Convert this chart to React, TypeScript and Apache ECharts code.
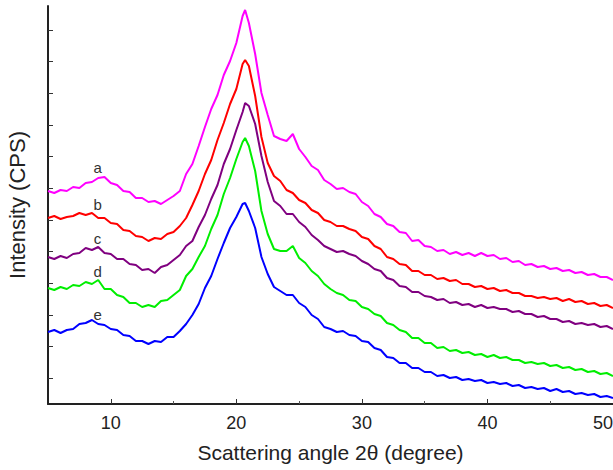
import React, { useEffect, useRef } from "react";
import * as echarts from "echarts";

// Scattering angle 2θ (degree)
const angles = [
  5, 5.5, 6, 6.5, 7, 7.5, 8, 8.5, 9, 9.5, 10, 10.5, 11, 11.5, 12, 12.5, 13, 13.5, 14, 14.5,
  15, 15.5, 16, 16.5, 17, 17.5, 18, 18.5, 19, 19.5, 20, 20.5, 20.7, 21, 21.5, 22, 22.5, 23, 23.5, 24,
  24.5, 25, 25.5, 26, 26.5, 27, 27.5, 28, 28.5, 29, 29.5, 30, 30.5, 31, 31.5, 32, 32.5, 33, 33.5, 34,
  34.5, 35, 35.5, 36, 36.5, 37, 37.5, 38, 38.5, 39, 39.5, 40, 40.5, 41, 41.5, 42, 42.5, 43, 43.5, 44,
  44.5, 45, 45.5, 46, 46.5, 47, 47.5, 48, 48.5, 49, 49.5, 50,
];

// Intensity (CPS), offset curves, arbitrary units
const curveA = [
  213, 211, 214, 213, 217, 216, 221, 222, 226, 227, 221, 219, 213, 212, 206, 206, 202, 203, 200, 204,
  208, 213, 230, 240, 258, 277, 295, 309, 329, 343, 361, 388, 394, 381, 350, 311, 289, 268, 265, 263,
  270, 255, 247, 238, 234, 224, 220, 215, 216, 212, 210, 202, 198, 190, 187, 180, 178, 172, 171, 163,
  164, 158, 157, 153, 154, 150, 152, 149, 151, 148, 151, 148, 149, 145, 146, 142, 143, 139, 140, 137,
  138, 135, 136, 133, 134, 131, 132, 129, 130, 127, 127, 124,
];
const curveB = [
  186, 188, 185, 187, 188, 191, 189, 191, 186, 186, 181, 180, 174, 173, 168, 167, 163, 166, 165, 170,
  172, 178, 186, 199, 213, 230, 244, 264, 281, 300, 315, 340, 344, 338, 308, 267, 241, 228, 223, 214,
  211, 204, 201, 194, 191, 184, 182, 178, 178, 175, 173, 167, 165, 158, 155, 147, 145, 140, 139, 133,
  133, 129, 129, 125, 126, 123, 124, 120, 120, 117, 118, 115, 116, 113, 114, 111, 111, 108, 108, 106,
  107, 105, 106, 103, 105, 102, 103, 100, 101, 98, 99, 96,
];
const curveC = [
  147, 145, 148, 146, 150, 151, 156, 154, 157, 151, 150, 145, 145, 140, 139, 134, 135, 131, 137, 139,
  144, 149, 158, 163, 177, 189, 205, 219, 240, 255, 274, 292, 301, 298, 280, 248, 222, 203, 198, 190,
  190, 182, 177, 169, 164, 158, 155, 152, 153, 150, 148, 143, 140, 135, 133, 126, 124, 118, 117, 112,
  112, 108, 107, 104, 105, 101, 102, 99, 100, 97, 99, 96, 97, 95, 95, 92, 93, 90, 90, 87,
  88, 85, 85, 82, 83, 80, 81, 79, 80, 77, 78, 75,
];
const curveD = [
  116, 114, 117, 115, 119, 118, 122, 120, 124, 115, 115, 109, 107, 101, 101, 97, 99, 97, 103, 104,
  109, 114, 128, 135, 147, 158, 175, 189, 210, 226, 245, 262, 266, 258, 233, 193, 170, 155, 153, 153,
  158, 146, 141, 133, 128, 120, 115, 111, 109, 104, 103, 97, 95, 90, 88, 81, 79, 74, 72, 66,
  66, 61, 61, 56, 57, 53, 54, 51, 52, 49, 50, 47, 49, 46, 47, 44, 44, 41, 42, 40,
  41, 38, 39, 36, 37, 34, 35, 32, 33, 30, 31, 28,
];
const curveE = [
  72, 74, 71, 74, 75, 80, 81, 84, 80, 79, 75, 74, 69, 68, 63, 63, 60, 63, 62, 67,
  67, 73, 80, 89, 100, 116, 128, 145, 161, 176, 187, 200, 201, 193, 176, 147, 130, 117, 113, 109,
  109, 101, 97, 89, 85, 77, 75, 72, 73, 69, 68, 63, 62, 56, 54, 47, 46, 41, 41, 36,
  36, 32, 32, 28, 29, 26, 27, 24, 25, 23, 24, 21, 22, 20, 21, 18, 19, 16, 17, 15,
  16, 13, 15, 12, 13, 10, 11, 9, 10, 7, 8, 6,
];

const curveNames = ["a", "b", "c", "d", "e"];
const curveColors = ["#ff00ff", "#ff0000", "#800080", "#00ee00", "#0000ff"];
const curves = [curveA, curveB, curveC, curveD, curveE];
// curve letter annotations: [angle, intensity]
const letterAt = [
  [8.95, 237],
  [8.95, 200],
  [8.95, 166],
  [8.95, 133],
  [8.95, 90],
];

const xMajorTicks = [10, 20, 30, 40, 50];
const xMinorTicks = [15, 25, 35, 45];
const yTicks = [25.7, 57.3, 89, 120.7, 152.3, 184, 215.7, 247.3, 279, 310.7, 342.3, 374];

export default function App() {
  const ref = useRef<HTMLDivElement>(null);
  useEffect(() => {
    if (!ref.current) return;
    const chart = echarts.init(ref.current, null, { renderer: "svg" });
    const font = "'Liberation Sans', Arial, sans-serif";
    const series: any[] = curves.map((vals, i) => ({
      type: "line",
      name: curveNames[i],
      data: angles.map((x, k) => [x, vals[k]]),
      showSymbol: false,
      symbol: "none",
      lineStyle: { color: curveColors[i], width: 2 },
      itemStyle: { color: curveColors[i] },
      markPoint: {
        symbol: "circle",
        symbolSize: 0,
        silent: true,
        label: {
          show: true,
          position: "inside",
          formatter: curveNames[i],
          color: "#333",
          fontSize: 15,
          fontFamily: font,
        },
        data: [{ coord: letterAt[i], value: curveNames[i] }],
      },
    }));
    chart.setOption({
      animation: false,
      backgroundColor: "#fff",
      grid: { left: 48, right: 0, top: 6, bottom: 66, containLabel: false, outerBoundsMode: "none" },
      xAxis: [
        {
          type: "value",
          min: 5,
          max: 50,
          interval: 5,
          axisLine: { show: true, lineStyle: { color: "#222", width: 2 } },
          axisTick: { show: true, inside: true, length: 5, customValues: xMajorTicks, lineStyle: { color: "#333", width: 1 } },
          axisLabel: {
            show: true,
            customValues: xMajorTicks,
            margin: 10,
            fontSize: 18,
            color: "#222",
            fontFamily: font,
            hideOverlap: false,
            alignMaxLabel: "right",
          },
          splitLine: { show: false },
          name: "Scattering angle 2θ (degree)",
          nameLocation: "middle",
          nameGap: 38,
          nameTextStyle: { fontSize: 21, color: "#222", fontFamily: font },
        },
        {
          type: "value",
          min: 5,
          max: 50,
          interval: 5,
          position: "bottom",
          axisLine: { show: false },
          axisTick: { show: true, inside: true, length: 3, customValues: xMinorTicks, lineStyle: { color: "#555", width: 1 } },
          axisLabel: { show: false },
          splitLine: { show: false },
        },
      ],
      yAxis: {
        type: "value",
        min: 0,
        max: 398,
        axisLine: { show: true, lineStyle: { color: "#222", width: 2 } },
        axisTick: { show: true, inside: true, length: 5, customValues: yTicks, lineStyle: { color: "#333", width: 1 } },
        axisLabel: { show: false },
        splitLine: { show: false },
        name: "Intensity (CPS)",
        nameLocation: "middle",
        nameGap: 20,
        nameTextStyle: { fontSize: 22, color: "#222", fontFamily: font },
      },
      series,
    });
    return () => chart.dispose();
  }, []);
  return (
    <div
      ref={ref}
      style={{ position: "fixed", left: 0, top: 0, width: 613, height: 470, background: "#fff" }}
    />
  );
}
